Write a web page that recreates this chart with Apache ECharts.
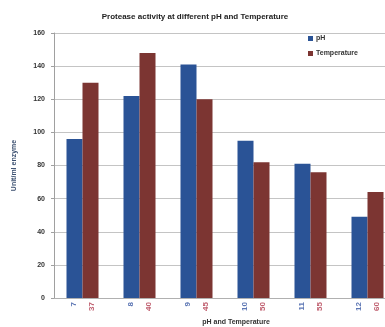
<!DOCTYPE html>
<html>
<head>
<meta charset="utf-8">
<script src="https://cdn.jsdelivr.net/npm/echarts@6/dist/echarts.min.js"></script>
<style>
  html, body { margin: 0; padding: 0; background: #fff; overflow: hidden; }
  #chart { width: 385px; height: 327px; }
</style>
</head>
<body>
<div id="chart"></div>
<script>
// Protease activity measured at each pH and at each temperature
const phValues = ['7', '8', '9', '10', '11', '12'];
const tempValues = ['37', '40', '45', '50', '55', '60'];
const phActivity = [96, 122, 141, 95, 81, 49];
const tempActivity = [130, 148, 120, 82, 76, 64];
const yTicks = { min: 0, max: 160, interval: 20 };

const categories = phValues.map((p, i) => p + '|' + tempValues[i]);

const chart = echarts.init(document.getElementById('chart'));
chart.setOption({
  animation: false,
  backgroundColor: '#ffffff',
  textStyle: { fontFamily: 'Liberation Sans, Arial, sans-serif' },
  title: {
    text: 'Protease activity at different pH and Temperature',
    left: 190,
    textAlign: 'center',
    top: 8,
    textStyle: { fontSize: 8, fontWeight: 'bold', color: '#222' }
  },
  legend: {
    orient: 'vertical',
    left: 303,
    top: 30,
    itemWidth: 5,
    itemHeight: 5,
    itemGap: 8,
    icon: 'rect',
    textStyle: { fontSize: 7, fontWeight: 'bold', color: '#333', padding: [0, 0, 0, -2] },
    data: ['pH', 'Temperature']
  },
  // the plot runs slightly past the right edge, so keep the grid unclamped
  grid: { left: 54, top: 33, width: 342, height: 265, outerBoundsMode: 'none' },
  xAxis: {
    type: 'category',
    data: categories,
    name: 'pH and Temperature',
    nameLocation: 'middle',
    nameGap: 20,
    nameTextStyle: { fontSize: 7, fontWeight: 'bold', color: '#333', padding: [0, 0, 0, 22] },
    axisLine: { lineStyle: { color: '#b0b0b0' } },
    axisTick: { show: false },
    axisLabel: {
      interval: 0,
      rotate: 90,
      margin: 4,
      fontSize: 8,
      fontWeight: 'bold',
      formatter: function (v) {
        const parts = v.split('|');
        return '{p|' + parts[0] + '}\n{t|' + parts[1] + '}';
      },
      rich: {
        p: { color: '#5c76b4', fontSize: 8, fontWeight: 'bold', lineHeight: 18 },
        t: { color: '#c06070', fontSize: 8, fontWeight: 'bold', lineHeight: 18 }
      }
    }
  },
  yAxis: {
    type: 'value',
    min: yTicks.min,
    max: yTicks.max,
    interval: yTicks.interval,
    name: 'Unit/ml enzyme',
    nameLocation: 'middle',
    nameGap: 36,
    nameTextStyle: { fontSize: 7, fontWeight: 'bold', color: '#3c5070' },
    axisLine: { show: true, lineStyle: { color: '#a0a0a0' } },
    axisTick: { show: true, length: 3, lineStyle: { color: '#a0a0a0' } },
    axisLabel: { fontSize: 7, fontWeight: 'bold', color: '#333', margin: 9 },
    splitLine: { lineStyle: { color: '#c4c4c4' } }
  },
  series: [
    {
      name: 'pH',
      type: 'bar',
      data: phActivity,
      barWidth: 16,
      barGap: '0%',
      itemStyle: { color: '#2a5396' }
    },
    {
      name: 'Temperature',
      type: 'bar',
      data: tempActivity,
      barWidth: 16,
      itemStyle: { color: '#7c3532' }
    }
  ]
});
</script>
</body>
</html>
